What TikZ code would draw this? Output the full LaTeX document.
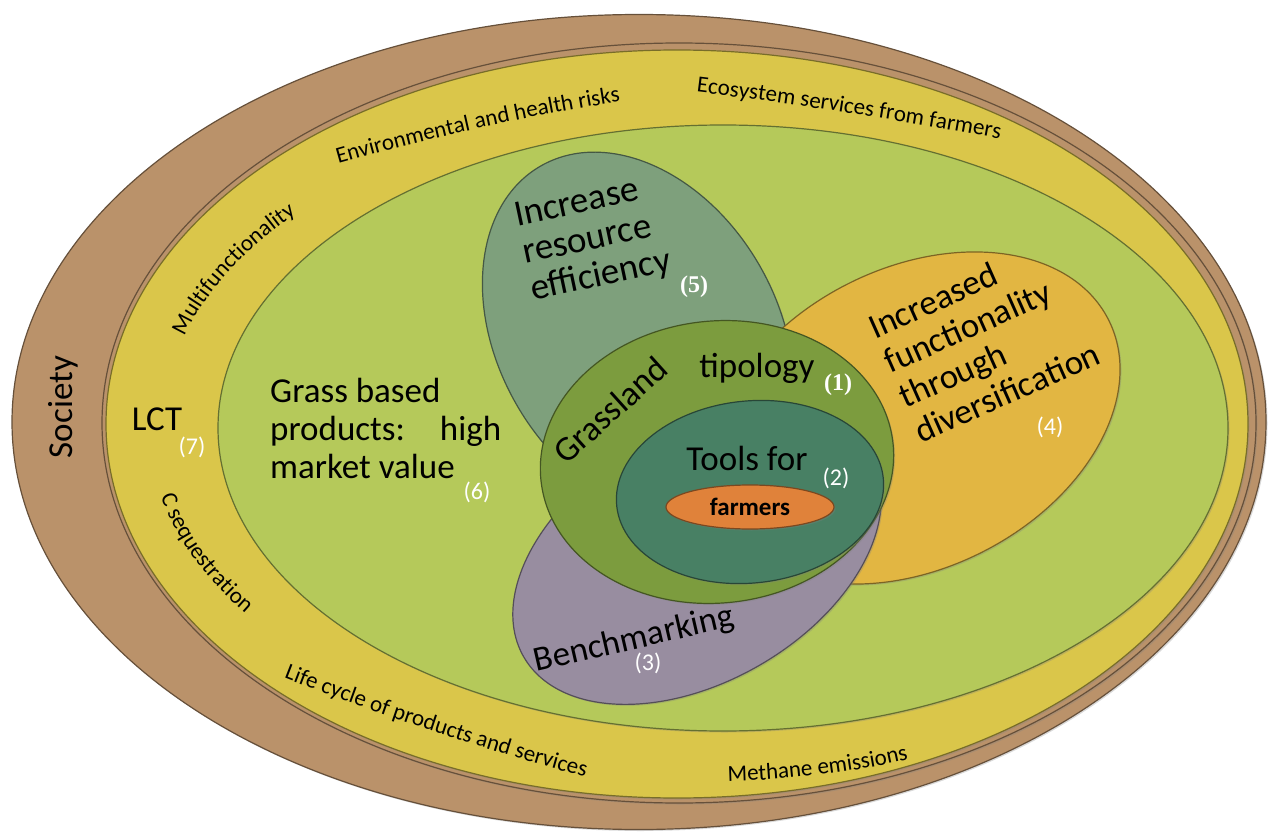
\documentclass[tikz,border=0pt]{standalone}
\usepackage{fontspec}
\setmainfont{Carlito}
\newfontfamily\numfont{Liberation Serif}
\usetikzlibrary{shapes.geometric, shadows, decorations.text}
\definecolor{societybrown}{RGB}{186,146,106}
\definecolor{bandyellow}{RGB}{218,198,74}
\definecolor{fieldgreen}{RGB}{181,201,90}
\definecolor{effgrey}{RGB}{126,160,124}
\definecolor{funcorange}{RGB}{226,182,66}
\definecolor{benchlilac}{RGB}{152,141,160}
\definecolor{grassolive}{RGB}{124,156,62}
\definecolor{toolteal}{RGB}{72,128,100}
\definecolor{farmorange}{RGB}{224,130,58}
\newcommand{\bandfont}{\fontsize{23}{23}\selectfont}

\begin{document}
\begin{tikzpicture}[x=1pt, y=-1pt, Ring/.style={ellipse, inner sep=0pt, draw=#1!55!black, fill=#1, line width=1.2pt, drop shadow={opacity=0.3, shadow xshift=1.5pt, shadow yshift=-1.5pt}}, Big/.style={font=\fontsize{35}{38}\selectfont, align=center, inner sep=0pt}, Num/.style={font=\fontsize{24}{24}\selectfont, text=white, inner sep=0pt}, NumSerif/.style={Num, font=\fontsize{24}{24}\selectfont\numfont\bfseries}, BandText/.style={decorate, decoration={text along path, text align=center, text={|\bandfont|#1}}}]
\useasboundingbox (0,0) rectangle (1271,834);
% rings, back to front
\node[Ring=societybrown, minimum width=1254pt, minimum height=815pt] (society) at (639,422) {};
\node[Ring=societybrown, minimum width=1154pt, minimum height=760pt] (societyRim) at (679,423) {};
\node[Ring=bandyellow, minimum width=1142pt, minimum height=748pt] (band) at (677,424) {};
\node[Ring=fieldgreen, minimum width=1010pt, minimum height=606pt] (field) at (723,428) {};
\node[Ring=effgrey, minimum width=280pt, minimum height=390pt, rotate=30] (effic) at (638,335) {};
\node[Ring=funcorange, minimum width=434pt, minimum height=300pt, rotate=27] (func) at (915,418) {};
\node[Ring=benchlilac, minimum width=400pt, minimum height=250pt, rotate=30] (bench) at (697,557) {};
\node[Ring=grassolive, minimum width=354pt, minimum height=282pt, rotate=6] (grass) at (717,462) {};
\node[Ring=toolteal, minimum width=268pt, minimum height=182pt, rotate=6] (tools) at (750,492) {};
\node[Ring=farmorange, minimum width=168pt, minimum height=44pt, font=\fontsize{25}{25}\selectfont\bfseries] (farm) at (750,507) {farmers};

% outer band texts
\node[Big, rotate=90] (socTxt) at (63,407) {Society};
\node[Big] (lctTxt) at (157,419) {LCT};
\node[Num] (lctNum) at (192,447) {(7)};
\path[BandText=Multifunctionality] plot[domain=-15:15, samples=40, variable=\x] ({700+537*cos(208.4+\x)}, {426+322*sin(208.4+\x)});
\path[BandText=Environmental and health risks] plot[domain=300:660, samples=60, variable=\x] (\x, {128-0.2211*(\x-480)+2.277*((\x-480)/100)^2});
\path[BandText=Ecosystem services from farmers] plot[domain=668:1028, samples=60, variable=\x] (\x, {113+0.1545*(\x-848)+1.022*((\x-848)/100)^2});
\path[BandText=C sequestration] plot[domain=-14:14, samples=40, variable=\x] ({700+552*cos(156.9-\x)}, {426+331*sin(156.9-\x)});
\path[BandText=Life cycle of products and services] plot[domain=260:610, samples=60, variable=\x] (\x, {732+0.3304*(\x-435)-1.945*((\x-435)/100)^2});
\path[BandText=Methane emissions] plot[domain=-16:16, samples=40, variable=\x] ({700+595*cos(78.2-\x)}, {426+356*sin(78.2-\x)});

% inner texts
\node[Big, align=left, anchor=west] (grassTxt) at (270,428) {Grass based\\products:\quad high\\market value};
\node[Num] (grassNum) at (477,492) {(6)};
\node[Big, align=left, rotate=12, font=\fontsize{37}{38}\selectfont] (efficTxt) at (593,240) {Increase\\resource\\efficiency};
\node[NumSerif] (efficNum) at (694,287) {(5)};
\node[Big, align=left, rotate=24] (funcTxt) at (984,340) {Increased\\functionality\\through\\diversification};
\node[Num] (funcNum) at (1050,427) {(4)};
\node[Big, rotate=42] (typTxtA) at (610,410) {Grassland};
\node[Big] (typTxtB) at (757,368) {tipology};
\node[NumSerif] (typNum) at (838,385) {(1)};
\node[Big] (toolsTxt) at (747,458) {Tools for};
\node[Num] (toolsNum) at (836,478) {(2)};
\node[Big, rotate=13] (benchTxt) at (634,640) {Benchmarking};
\node[Num] (benchNum) at (648,663) {(3)};
\end{tikzpicture}
\end{document}
